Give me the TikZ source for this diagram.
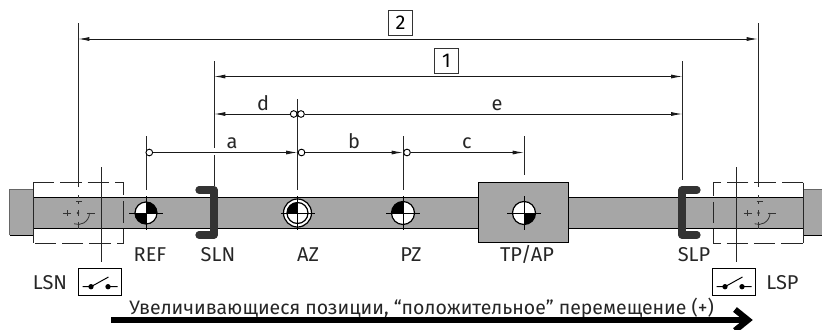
\documentclass[tikz,border=0pt]{standalone}
\usepackage{fontspec}
\setmainfont{Fira Sans}
\usetikzlibrary{arrows.meta}
\definecolor{railgray}{HTML}{A6A6A6}
\definecolor{stopdark}{HTML}{333333}
\tikzset{
  px/.style={x=0.75pt,y=-0.75pt},
  txt/.style={font=\fontsize{15}{17}\selectfont,inner sep=0pt,anchor=base,text=black!85},
  longtxt/.style={font=\fontsize{14.6}{17}\selectfont,inner sep=0pt,anchor=base west,text=black!85},
  numbox/.style={draw=black!80,line width=0.75pt,minimum width=18.4pt,minimum height=18.4pt,inner sep=0pt,font=\fontsize{15}{17}\selectfont},
  dim/.style={line width=0.7pt,black!90,{Latex[length=8.5pt,width=3pt]}-{Latex[length=8.5pt,width=3pt]}},
  dimr/.style={line width=0.7pt,black!90,-{Latex[length=8.5pt,width=3pt]}},
  diml/.style={line width=0.7pt,black!90,{Latex[length=8.5pt,width=3pt]}-},
  ext/.style={line width=0.75pt,black!85},
  ring/.style={circle,draw=black,fill=white,line width=0.7pt,minimum size=5pt,inner sep=0pt},
  stopper/.style={line width=5.4pt,draw=stopdark,line cap=round,line join=round},
  ghostbox/.style={line width=0.75pt,black!85,dash pattern=on 16pt off 4.5pt},
  ghost/.style={line width=0.6pt,black!80},
  swbox/.style={draw=black,fill=white,line width=0.75pt,minimum width=32.5pt,minimum height=20pt,inner sep=0pt},
  swline/.style={line width=0.75pt,black}
}
\newcommand{\refmark}[5]{% x, y, radius, black quadrant start angles
  \begin{scope}[shift={(#1,#2)}]
    \fill[white] (0,0) circle[radius=#3*0.75pt];
    \foreach \a in {#4} {\fill[black] (0,0) -- (\a:#3*0.75pt) arc[start angle=\a,delta angle=90,radius=#3*0.75pt] -- cycle;}
    \draw[line width=0.9pt] (0,0) circle[radius=#3*0.75pt];
    \draw[line width=0.75pt] (-#5,0) -- (#5,0) (0,-#5) -- (0,#5);
  \end{scope}}
\newcommand{\ghostmark}[2]{%
  \begin{scope}[shift={(#1,#2)},ghost]
    \fill[black!80] (0,0) circle[radius=1pt];
    \draw (-15,0) -- (-7,0) (-11,-3) -- (-11,3);
    \draw (9,0) -- (17,0);
    \draw (-2,-11.5) -- (4,-11.5) (0,-18) -- (0,-15) (0,-12) -- (0,-9) (0,-3) -- (0,3) (0,9) -- (0,16);
    \draw (11.5,0) arc[start angle=0,end angle=-110,radius=8.6pt];
  \end{scope}}
\newcommand{\swsym}[2]{%
  \begin{scope}[shift={(#1,#2)},swline]
    \draw (-17,4.7) -- (-8,4.7) (-8.5,4.7) -- (9,-5) (9,4.7) -- (18,4.7);
    \fill (-8.5,4.7) circle[radius=2pt] (8.5,4.7) circle[radius=2pt];
  \end{scope}}
\begin{document}
\begin{tikzpicture}[px]
\useasboundingbox (0,0) rectangle (822,329);
% rail
\fill[railgray] (9.5,189.5) rectangle (33,235);
\fill[railgray] (803,189.5) rectangle (822,235);
\draw[line width=0.5pt,black!60] (33,189.5) -- (9.5,189.5) -- (9.5,235);
\draw[line width=0.75pt] (9.5,235) -- (33,235);
\draw[line width=0.5pt,black!60] (803,189.5) -- (822,189.5);
\draw[line width=0.75pt] (803,235) -- (822,235);
\fill[railgray] (33,197.5) rectangle (803,228);
\draw[line width=0.75pt] (33,197.5) -- (803,197.5) (33,228) -- (803,228);
\node[draw=black,fill=railgray,line width=0.8pt,minimum width=68pt,minimum height=45.5pt,inner sep=0pt] (tp) at (523.5,212.5) {};
% ghost boxes
\draw[ghostbox] (33,182.5) -- (123.5,182.5) -- (123.5,243) -- (33,243);
\draw[line width=0.75pt,black!85] (33,182.5) -- (33,243);
\draw[ghostbox] (803,182.5) -- (713,182.5) -- (713,243) -- (803,243);
\draw[line width=0.75pt,black!85] (803,182.5) -- (803,243);
% extension lines
\coordinate (L2t) at (78,23);   \coordinate (L2b) at (78,187);
\coordinate (R2t) at (758,23);  \coordinate (R2b) at (758,187);
\coordinate (L1t) at (214,61);  \coordinate (L1g) at (214,148);
\coordinate (L1h) at (214,155); \coordinate (L1b) at (214,186);
\coordinate (R1t) at (682.5,61);\coordinate (R1b) at (682.5,180);
\coordinate (AZt) at (297.5,99);\coordinate (AZb) at (297.5,190);
\coordinate (REFt) at (146,136);\coordinate (REFb) at (146,190);
\coordinate (PZt) at (403,136); \coordinate (PZb) at (403,190);
\coordinate (TPt) at (524,136); \coordinate (TPb) at (524,175);
\coordinate (LSNt) at (101,167);\coordinate (LSNb) at (101,262);
\coordinate (LSPt) at (736,167);\coordinate (LSPb) at (736,262);
\draw[ext] (L2t) -- (L2b);
\draw[ext] (R2t) -- (R2b);
\draw[ext] (L1t) -- (L1g);
\draw[ext] (L1h) -- (L1b);
\draw[ext] (R1t) -- (R1b);
\draw[ext] (AZt) -- (AZb);
\draw[ext] (REFt) -- (REFb);
\draw[ext] (PZt) -- (PZb);
\draw[ext] (TPt) -- (TPb);
\draw[ext] (LSNt) -- (LSNb);
\draw[ext] (LSPt) -- (LSPb);
% dimensions
\coordinate (d2l) at (78,39);    \coordinate (d2r) at (758,39);
\coordinate (d1l) at (214,76.5); \coordinate (d1r) at (682.5,76.5);
\coordinate (del) at (214,114);  \coordinate (der) at (682.5,114);
\coordinate (ar) at (297.5,152.5);
\coordinate (br) at (403,152.5);
\coordinate (cr) at (524,152.5);
\draw[dim] (d2l) -- (d2r);
\draw[dim] (d1l) -- (d1r);
\node[ring] (cd) at (293.7,114) {};
\node[ring] (ce) at (301,114) {};
\node[ring] (ca) at (149.3,152.5) {};
\node[ring] (cb) at (301.5,152.5) {};
\node[ring] (cc) at (407,152.5) {};
\draw[diml] (del) -- (cd);
\draw[dimr] (ce) -- (der);
\draw[dimr] (ca) -- (ar);
\draw[dimr] (cb) -- (br);
\draw[dimr] (cc) -- (cr);
\node[numbox] (n2) at (400.5,23) {2};
\node[numbox] (n1) at (446.5,61) {1};
\node[txt] (la) at (232,148) {a};
\node[txt] (lb) at (354,148) {b};
\node[txt] (lc) at (467,148) {c};
\node[txt] (ld) at (263,110) {d};
\node[txt] (le) at (497,110) {e};
% stops
\draw[stopper] (199,190) -- (214,190) -- (214,235) -- (199,235);
\draw[stopper] (697,190) -- (682,190) -- (682,235) -- (697,235);
% reference marks
\refmark{146}{213}{11}{0,180}{17}
\begin{scope}[shift={(297.5,213)}]
  \fill[white] (0,0) circle[radius=10.5pt];
  \draw[line width=0.9pt] (0,0) circle[radius=10.5pt];
\end{scope}
\refmark{297.5}{213}{10.5}{90}{17}
\refmark{403}{213}{11.5}{90}{17}
\refmark{524}{213}{11.5}{270}{17}
\ghostmark{78}{213}
\ghostmark{758.5}{213}
% labels
\node[txt] (REF) at (150,261) {REF};
\node[txt] (SLN) at (218,261) {SLN};
\node[txt] (AZ) at (308,261) {AZ};
\node[txt] (PZ) at (411,261) {PZ};
\node[txt] (TPAP) at (527,261) {TP/AP};
\node[txt] (SLP) at (694,261) {SLP};
\node[txt] (LSN) at (50,289) {LSN};
\node[txt] (LSP) at (782.5,289) {LSP};
% switches
\node[swbox] (swl) at (99.7,282) {};
\node[swbox] (swr) at (733.8,282) {};
\swsym{99.5}{282}
\swsym{733.5}{282}
% direction arrow
\node[longtxt] (dir) at (129,314) {Увеличивающиеся позиции, “положительное” перемещение (+)};
\coordinate (as) at (111,320);
\coordinate (ae) at (747,320);
\draw[line width=4.5pt] (as) -- (ae);
\draw[line width=4.5pt,miter limit=10] (735,309.5) -- (748,320) -- (735,330.5);
\end{tikzpicture}
\end{document}
